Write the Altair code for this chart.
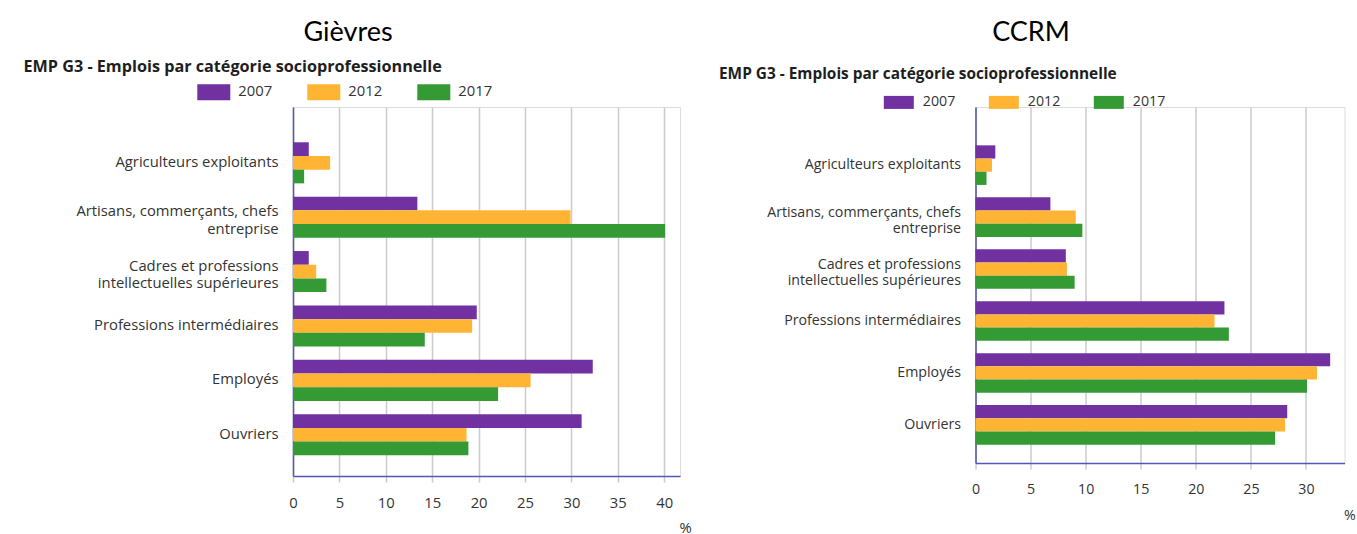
import altair as alt
import pandas as pd

# Socio-professional categories (display order, top to bottom)
categories = [
    "Agriculteurs exploitants",
    "Artisans, commerçants, chefs entreprise",
    "Cadres et professions intellectuelles supérieures",
    "Professions intermédiaires",
    "Employés",
    "Ouvriers",
]
years = ["2007", "2012", "2017"]
year_colors = ["#7131a1", "#ffb433", "#349a34"]

# Share of jobs (%) - Gièvres
gievres_2007 = [1.7, 13.4, 1.7, 19.8, 32.3, 31.1]
gievres_2012 = [4.0, 29.9, 2.5, 19.3, 25.6, 18.7]
gievres_2017 = [1.2, 40.1, 3.6, 14.2, 22.1, 18.9]

# Share of jobs (%) - CCRM
ccrm_2007 = [1.8, 6.8, 8.2, 22.6, 32.2, 28.3]
ccrm_2012 = [1.5, 9.1, 8.3, 21.7, 31.0, 28.1]
ccrm_2017 = [1.0, 9.7, 9.0, 23.0, 30.1, 27.2]

gievres_ticks = [0, 5, 10, 15, 20, 25, 30, 35, 40]
ccrm_ticks = [0, 5, 10, 15, 20, 25, 30]

chart_title = "EMP G3 - Emplois par catégorie socioprofessionnelle"

# Two-line category labels
label_lines = {
    "Artisans, commerçants, chefs entreprise": ["Artisans, commerçants, chefs", "entreprise"],
    "Cadres et professions intellectuelles supérieures": ["Cadres et professions", "intellectuelles supérieures"],
}
label_expr = ""
two_line_test = " || ".join(f"datum.value == '{name}'" for name in label_lines)
for name, lines in label_lines.items():
    arr = "[" + ", ".join("'" + s + "'" for s in lines) + "]"
    label_expr += f"datum.label == '{name}' ? {arr} : "
label_expr += "datum.label"

AXIS_COLOR = "#5656b6"
GRID_COLOR = "#cbcbcb"
TEXT_COLOR = "#333333"


def long_table(series):
    rows = []
    for year, values in zip(years, series):
        for cat, v in zip(categories, values):
            rows.append({"categorie": cat, "annee": year, "part": v})
    return pd.DataFrame(rows)


def panel(series, place, xmax, ticks, w, h, y_extent, fs, line_h, two_line_shift,
          title_fs, title_y, legend_x, legend_y, sym_w, sym_h, label_off, col_pad,
          pad_inner, pad_outer, align, head_dx, head_offset):
    k = sym_h / sym_w
    rect = f"M-1,-{k:.4f}L1,-{k:.4f}L1,{k:.4f}L-1,{k:.4f}Z"
    return alt.Chart(long_table(series)).mark_bar().encode(
        x=alt.X(
            "part:Q",
            scale=alt.Scale(domain=[0, xmax], nice=False, zero=True),
            axis=alt.Axis(
                values=ticks, format="d", title="%",
                titleX=w - 1, titleY=52, titleAlign="left", titleBaseline="middle",
                titleFontWeight="normal", titleFontSize=fs, titleColor=TEXT_COLOR,
                titleFont="Open Sans",
                labelFontSize=fs, labelColor=TEXT_COLOR, labelPadding=13,
                labelFlush=False, labelAngle=0, labelFont="Open Sans",
                tickSize=6, tickColor=GRID_COLOR, tickWidth=1.5,
                grid=True, gridColor=GRID_COLOR, gridWidth=1.5,
                domainColor=AXIS_COLOR, domainWidth=1.5,
            ),
        ),
        y=alt.Y(
            "categorie:N", sort=categories,
            scale=alt.Scale(paddingInner=pad_inner, paddingOuter=pad_outer, align=align),
            axis=alt.Axis(
                title=chart_title, titleAngle=0, titleX=-y_extent, titleY=title_y,
                titleAlign="left", titleBaseline="middle", titleFont="Open Sans",
                titleFontSize=title_fs, titleFontWeight="bold", titleColor="#1e1e1e",
                ticks=False, grid=False, labelExpr=label_expr,
                labelOffset={"condition": {"test": two_line_test, "value": two_line_shift}, "value": 0},
                labelFontSize=fs, labelColor=TEXT_COLOR, labelPadding=15,
                labelLineHeight=line_h, labelLimit=400, labelFont="Open Sans",
                minExtent=y_extent, maxExtent=y_extent,
                domainColor=AXIS_COLOR, domainWidth=1.5,
            ),
        ),
        yOffset=alt.YOffset("annee:N", sort=years,
                            scale=alt.Scale(paddingInner=0, paddingOuter=0)),
        color=alt.Color(
            "annee:N",
            scale=alt.Scale(domain=years, range=year_colors),
            legend=alt.Legend(
                title=None, orient="none", legendX=legend_x, legendY=legend_y,
                direction="horizontal", symbolType=rect, symbolSize=sym_w ** 2,
                symbolStrokeWidth=0, symbolOpacity=1,
                labelFontSize=fs, labelColor=TEXT_COLOR, labelFont="Open Sans",
                labelOffset=label_off, columnPadding=col_pad,
            ),
        ),
    ).properties(
        width=w, height=h,
        title=alt.TitleParams(
            place, anchor="middle", frame="group", dx=head_dx, offset=head_offset,
            font="Lato", fontSize=27, fontWeight="normal", color="#000000",
        ),
    )


left = panel([gievres_2007, gievres_2012, gievres_2017], "Gièvres", 41.7, gievres_ticks,
             w=387, h=369, y_extent=270, fs=14.8, line_h=17.7, two_line_shift=-4.9,
             title_fs=16.2, title_y=-41, legend_x=-95.7, legend_y=-31.5, sym_w=33, sym_h=16,
             label_off=8, col_pad=35, pad_inner=0.245, pad_outer=0.515, align=0.63,
             head_dx=-138.5, head_offset=11)

right = panel([ccrm_2007, ccrm_2012, ccrm_2017], "CCRM", 33.5, ccrm_ticks,
              w=369, h=356, y_extent=257, fs=14.2, line_h=16.8, two_line_shift=-4.4,
              title_fs=15.4, title_y=-34, legend_x=-91.7, legend_y=-20, sym_w=30, sym_h=13,
              label_off=9, col_pad=33, pad_inner=0.238, pad_outer=0.545, align=0.677,
              head_dx=-129, head_offset=19)

chart = (
    alt.hconcat(left, right, spacing=25.5)
    .resolve_scale(color="independent", x="independent", y="independent", yOffset="independent")
    .resolve_legend(color="independent")
    .properties(padding={"left": 22, "top": 18, "right": 0, "bottom": 0})
    .configure_view(stroke=None)
    .configure(font="Open Sans")
)

chart.save("out.html", embed_options={"renderer": "svg", "actions": False})
